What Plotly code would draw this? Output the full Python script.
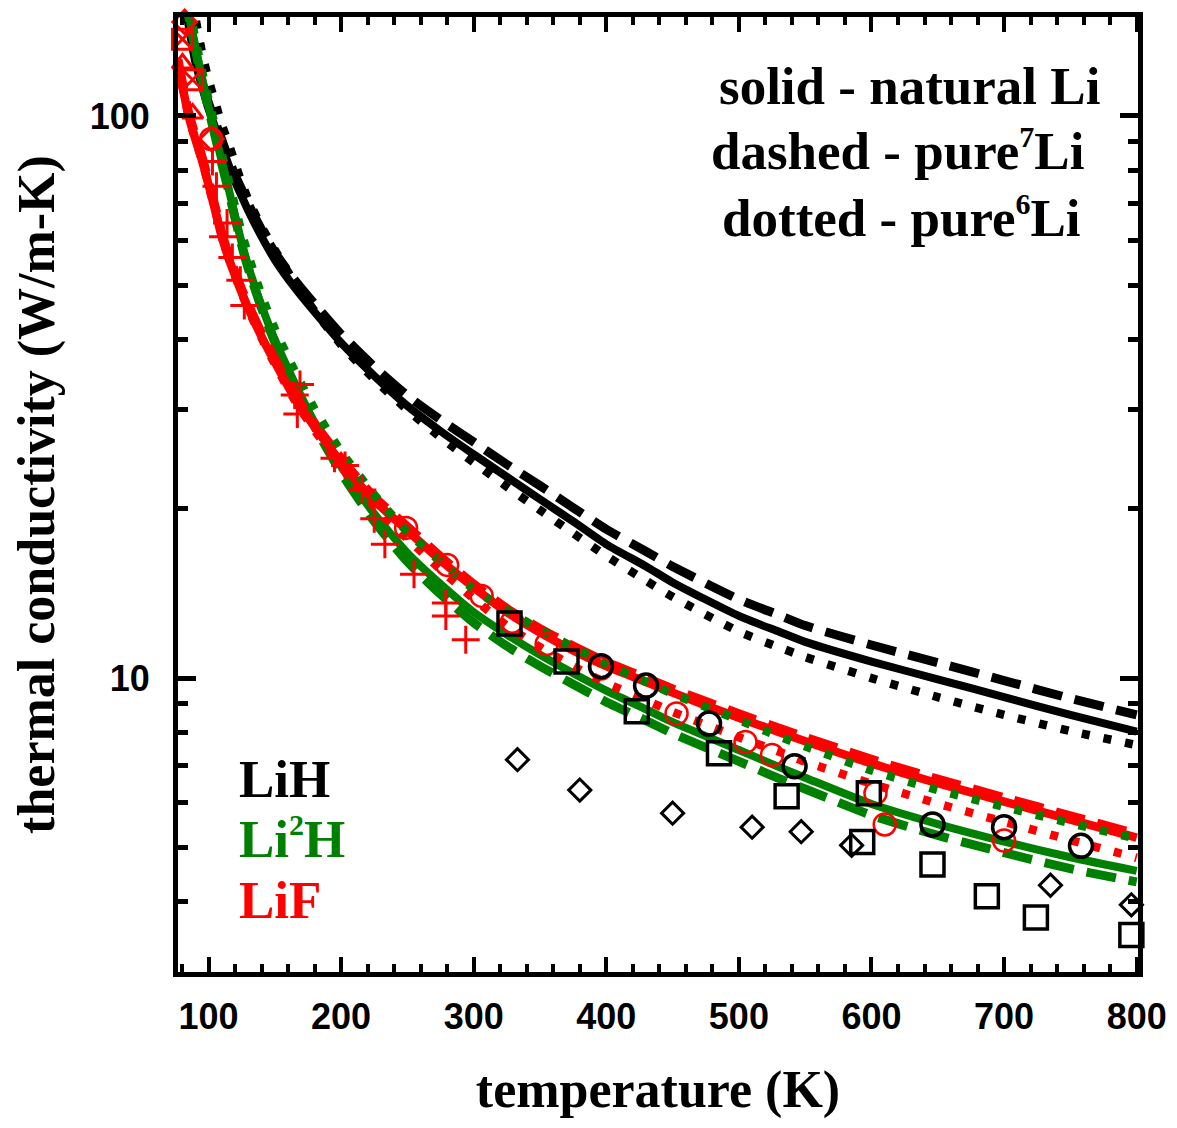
import plotly.graph_objects as go

# ---------------- data ----------------
T_curve = [77, 80, 85, 90, 95, 100, 106, 110, 115, 120, 125, 130, 140, 150, 165, 180,
           200, 225, 250, 275, 300, 325, 350, 375, 400, 430, 450, 500, 530, 550, 600,
           650, 700, 750, 800]

lih_natural = [185, 170, 145, 125, 113, 103, 94, 88.5, 82, 76.5, 72, 67.8, 61, 55.5, 49.5, 44.8,
               39.5, 34.5, 30.5, 27.5, 25.0, 22.8, 20.8, 19.0, 17.3, 15.8, 14.8, 12.9, 12.1, 11.6, 10.7,
               9.95, 9.25, 8.6, 8.03]
lih_li7 = [190, 174, 148, 128, 115.5, 105.5, 96.3, 90.7, 84, 78.5, 74, 69.7, 62.8, 57.2, 51.1, 46.3,
           40.9, 35.8, 31.8, 28.8, 26.3, 24.0, 22.0, 20.1, 18.4, 16.8, 15.8, 13.8, 12.95, 12.4, 11.45,
           10.65, 9.9, 9.2, 8.6]
lih_li6 = [230, 210, 178, 150, 130, 116, 104, 96.5, 89.5, 82.5, 76, 71, 63.5, 57.8, 50.5, 45,
           39.2, 34.0, 30.0, 26.8, 24.2, 21.9, 19.9, 18.1, 16.5, 14.9, 13.95, 12.1, 11.35, 10.9, 10.0,
           9.25, 8.6, 8.05, 7.6]

lid_natural = [200, 182, 152, 133, 117, 104, 91, 83, 74.5, 66.5, 59.5, 54, 46, 40, 33.5, 28.5,
               23.8, 19.6, 16.7, 14.7, 13.1, 11.95, 11.0, 10.2, 9.5, 8.8, 8.35, 7.45, 6.95, 6.65, 5.97,
               5.5, 5.12, 4.8, 4.54]
lid_li7 = [198, 180, 150.5, 131.7, 115.8, 103, 90, 82.2, 73.8, 65.8, 58.9, 53.5, 45.5, 39.6, 33.0, 28.0,
           23.2, 19.0, 16.1, 14.1, 12.55, 11.4, 10.5, 9.75, 9.07, 8.4, 7.97, 7.11, 6.63, 6.35, 5.7,
           5.25, 4.89, 4.58, 4.34]
lid_li6 = [206, 188, 157, 137.5, 120.5, 107, 93.5, 85.5, 77, 69, 62, 56.5, 48, 41.8, 35.2, 30.1,
           25.3, 21.2, 18.2, 16.1, 14.4, 13.2, 12.2, 11.35, 10.6, 9.85, 9.38, 8.42, 7.88, 7.56, 6.85,
           6.32, 5.9, 5.52, 5.18]

lif_natural = [124, 114, 100, 91, 83.5, 75.5, 66.5, 61, 56, 52, 48.5, 45.5, 40.5, 36.5, 31.5, 28,
               24.2, 20.7, 18.3, 16.2, 14.5, 13.1, 12.05, 11.2, 10.5, 9.84, 9.42, 8.5, 8.02, 7.72, 7.05,
               6.5, 6.03, 5.6, 5.2]
lif_li7 = [126, 115.7, 101.5, 92.4, 84.8, 76.6, 67.5, 61.9, 56.8, 52.8, 49.2, 46.2, 41.1, 37.0, 32.0, 28.4,
           24.6, 21.0, 18.6, 16.45, 14.7, 13.3, 12.25, 11.4, 10.68, 10.0, 9.57, 8.64, 8.15, 7.85, 7.17,
           6.61, 6.13, 5.69, 5.28]
lif_li6 = [124, 114, 100, 91, 83.5, 75.5, 66.5, 61, 56, 52, 48.4, 45.3, 40.3, 36.2, 31.2, 27.6,
           23.8, 20.2, 17.7, 15.6, 13.85, 12.4, 11.35, 10.5, 9.8, 9.13, 8.71, 7.85, 7.4, 7.1, 6.49,
           5.98, 5.55, 5.15, 4.79]

# experimental points
blk_circle_T = [396, 430, 477.5, 542, 646, 700, 758]
blk_circle_k = [10.5, 9.7, 8.3, 6.97, 5.49, 5.43, 5.03]
blk_square_T = [327, 370, 423, 485, 536, 598, 593, 646, 687, 724, 796]
blk_square_k = [12.5, 10.7, 8.73, 7.35, 6.16, 6.24, 5.11, 4.66, 4.09, 3.75, 3.49]
blk_diamond_T = [333, 380, 450, 510, 547, 585, 735, 796]
blk_diamond_k = [7.16, 6.32, 5.75, 5.43, 5.33, 5.04, 4.28, 3.95]

red_circle_T = [102, 249, 280, 306, 329, 355, 396, 453, 505, 525, 603, 610, 700, 802]
red_circle_k = [91, 18.5, 15.9, 14.0, 12.6, 11.5, 10.4, 8.65, 7.7, 7.3, 6.24, 5.49, 5.14, 4.28]
red_cross_T = [103, 106, 111, 114, 118, 124, 127, 165, 169, 167, 195, 203, 216, 225, 233, 255, 279, 279, 294]
red_cross_k = [83, 75, 61, 64.5, 56, 51, 46, 31.9, 33.3, 29.5, 24.6, 23.9, 21.6, 19.2, 17.3, 15.3, 13.6, 12.9, 11.7]
red_triangle_T = [80.4, 88]
red_triangle_k = [124, 101]
red_squarex_T = [80.4, 88]
red_squarex_k = [137, 116]
red_diamond_T = [82, 102.3]
red_diamond_k = [147, 91]

x_tickvals = [100, 200, 300, 400, 500, 600, 700, 800]
y_tickvals = [10, 100]
y_ticktext = ["10", "100"]
y_minor = [4, 5, 6, 7, 8, 9, 20, 30, 40, 50, 60, 70, 80, 90]

BLACK = "#000000"
GREEN = "#008000"
RED = "#ff0000"
DOT = "8px,14px"
DASH = "30px,13px"

fig = go.Figure()


def add_line(y, color, dash, width):
    fig.add_trace(go.Scatter(
        x=T_curve, y=y, mode="lines",
        line=dict(color=color, dash=dash, width=width, shape="spline", smoothing=0.6),
        showlegend=False, hoverinfo="skip"))


add_line(lih_natural, BLACK, "solid", 8)
add_line(lih_li7, BLACK, DASH, 9)
add_line(lih_li6, BLACK, DOT, 8.5)
add_line(lid_natural, GREEN, "solid", 8)
add_line(lid_li7, GREEN, DASH, 9)
add_line(lif_natural, RED, "solid", 8.5)
add_line(lif_li7, RED, DASH, 9)
add_line(lif_li6, RED, DOT, 8.5)
add_line(lid_li6, GREEN, DOT, 8.5)


def add_pts(x, y, symbol, color, size, lw):
    fig.add_trace(go.Scatter(
        x=x, y=y, mode="markers", cliponaxis=False,
        marker=dict(symbol=symbol, size=size, color=color,
                    line=dict(color=color, width=lw)),
        showlegend=False, hoverinfo="skip"))


add_pts(red_cross_T, red_cross_k, "cross-thin-open", RED, 20, 3)
add_pts(red_triangle_T, red_triangle_k, "triangle-up-open", RED, 18, 3)
add_pts(red_squarex_T, red_squarex_k, "square-x-open", RED, 20, 3)
add_pts(red_diamond_T, red_diamond_k, "diamond-open", RED, 18, 3)
add_pts(red_circle_T, red_circle_k, "circle-open", RED, 22, 2.5)
add_pts(blk_circle_T, blk_circle_k, "circle-open", BLACK, 23, 3.5)
add_pts(blk_square_T, blk_square_k, "square-open", BLACK, 23, 3.5)
add_pts(blk_diamond_T, blk_diamond_k, "diamond-open", BLACK, 17, 3)

TICKFONT = dict(family="Liberation Sans, Arial, sans-serif", size=36, color="black", weight="bold")
TITLEFONT = dict(family="Liberation Serif, Times New Roman, serif", size=52, color="black", weight="bold")

fig.update_xaxes(
    type="linear", range=[77, 801],
    tickvals=x_tickvals, ticks="inside", ticklen=15, tickwidth=4, tickcolor="black",
    minor=dict(dtick=20, tick0=0, ticks="inside", ticklen=8, tickwidth=4, tickcolor="black"),
    showline=True, linewidth=5, linecolor="black", mirror="ticks",
    showgrid=False, zeroline=False, tickfont=TICKFONT, ticklabelstandoff=9,
    title=dict(text="temperature (K)", font=TITLEFONT, standoff=36))

fig.update_yaxes(
    type="log", range=[0.47712, 2.17609],
    tickvals=y_tickvals, ticktext=y_ticktext, ticks="inside", ticklen=18, tickwidth=5,
    tickcolor="black",
    minor=dict(tickvals=y_minor, ticks="inside", ticklen=10, tickwidth=5, tickcolor="black"),
    showline=True, linewidth=5, linecolor="black", mirror="ticks",
    showgrid=False, zeroline=False, tickfont=TICKFONT, ticklabelstandoff=16,
    title=dict(text="thermal conductivity (W/m-K)", font=TITLEFONT, standoff=38))

ANNFONT = dict(family="Liberation Serif, Times New Roman, serif", size=53, color="black", weight="bold")
SUP = '<sup><span style="font-size:30px">{}</span></sup>'
notes = [
    ("solid - natural Li", 0.762, 0.928),
    ("dashed - pure" + SUP.format("7") + "Li", 0.749, 0.861),
    ("dotted - pure" + SUP.format("6") + "Li", 0.754, 0.791),
]
for txt, xp, yp in notes:
    fig.add_annotation(text=txt, x=xp, y=yp, xref="paper", yref="paper",
                       xanchor="center", yanchor="middle", showarrow=False, font=ANNFONT)

legend_items = [
    ("LiH", BLACK, 0.202),
    ("Li" + SUP.format("2") + "H", GREEN, 0.140),
    ("LiF", RED, 0.075),
]
for txt, col, yp in legend_items:
    f = dict(ANNFONT)
    f["color"] = col
    fig.add_annotation(text=txt, x=0.0615, y=yp, xref="paper", yref="paper",
                       xanchor="left", yanchor="middle", showarrow=False, font=f)

# the page adds an 8px body margin, so the plot area is shifted by that amount
fig.update_layout(
    width=1177, height=1128,
    margin=dict(l=170, r=47, t=4, b=164),
    paper_bgcolor="white", plot_bgcolor="white",
    showlegend=False)

fig.write_html("out.html")
